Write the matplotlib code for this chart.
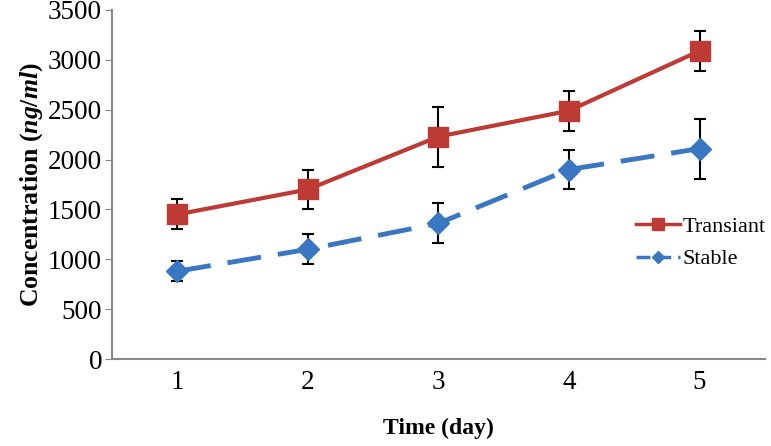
import matplotlib.pyplot as plt
from matplotlib.lines import Line2D

days = [1, 2, 3, 4, 5]
transiant = [1450, 1700, 2230, 2490, 3090]
transiant_err = [150, 200, 300, 200, 200]
stable = [880, 1100, 1360, 1900, 2110]
stable_err = [100, 150, 200, 200, 300]

plt.rcParams['font.family'] = ['Liberation Serif', 'DejaVu Serif']
plt.rcParams['mathtext.fontset'] = 'custom'
plt.rcParams['mathtext.it'] = 'Liberation Serif:italic:bold'
plt.rcParams['mathtext.rm'] = 'Liberation Serif:bold'

fig = plt.figure(figsize=(7.71, 4.46), dpi=100)
ax = fig.add_axes([0.145, 0.195, 0.847, 0.7826])

red = '#BE3A35'
blue = '#3A77C2'

ax.errorbar(days, transiant, yerr=transiant_err, color=red, lw=3, marker='s',
            ms=15, ecolor='black', elinewidth=1.5, capsize=4, capthick=1.5,
            zorder=3)
ax.errorbar(days, stable, yerr=stable_err, color=blue, lw=3.5, marker='D',
            ms=11, ecolor='black', elinewidth=1.5, capsize=4, capthick=1.5,
            dashes=(7, 3.5), zorder=3)

ax.set_xlim(0.5, 5.5)
ax.set_ylim(0, 3500)
ax.set_xticks(days)
ax.set_yticks(range(0, 3501, 500))
ax.tick_params(axis='x', length=0, labelsize=19.5, pad=8)
ax.tick_params(axis='y', length=5, color='#888888', labelsize=19.5, pad=2)

for s in ['top', 'right']:
    ax.spines[s].set_visible(False)
for s in ['left', 'bottom']:
    ax.spines[s].set_color('#888888')
    ax.spines[s].set_linewidth(1.5)

ax.set_xlabel('Time (day)', fontsize=17, fontweight='bold', labelpad=16)
ax.set_ylabel(r'Concentration ($\mathit{ng/ml}$)', fontsize=18.5,
              fontweight='bold', labelpad=2)

handles = [Line2D([], [], color=red, lw=2.5, marker='s', ms=9),
           Line2D([], [], color=blue, lw=2.5, marker='D', ms=6, dashes=(4, 2))]
fig.legend(handles, ['Transiant', 'Stable'], loc='upper left',
           bbox_to_anchor=(636 / 771, 1 - 216 / 446), frameon=False,
           fontsize=16, handlelength=2.0, handletextpad=0.1,
           labelspacing=0.55, borderpad=0, borderaxespad=0)

fig.savefig('out.png', dpi=100)
